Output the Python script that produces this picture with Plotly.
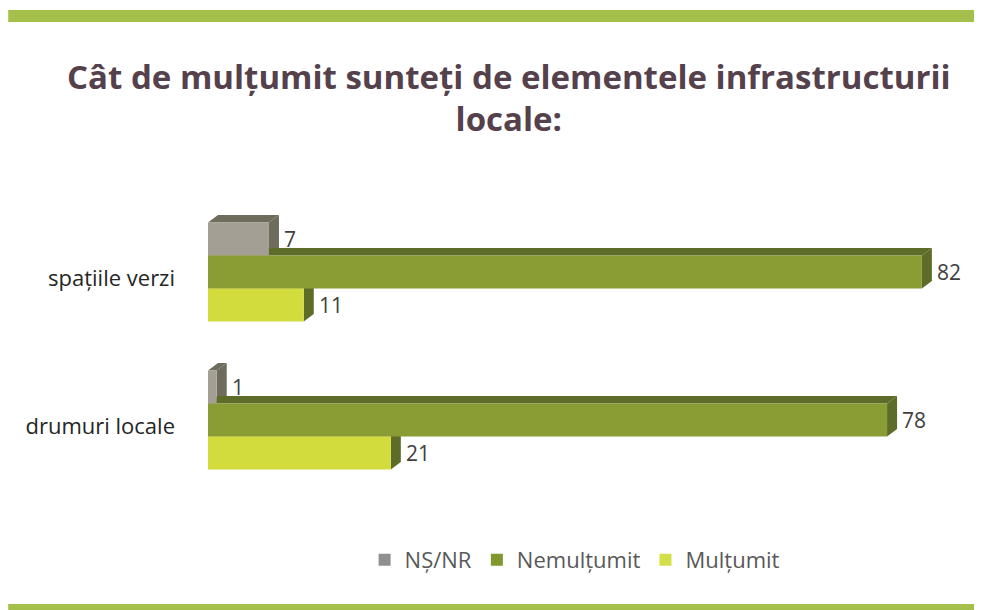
import plotly.graph_objects as go

categories = ["spațiile verzi", "drumuri locale"]
series_names = ["NȘ/NR", "Nemulțumit", "Mulțumit"]
ns_nr = [7, 1]
nemultumit = [82, 78]
multumit = [11, 21]
values = [ns_nr, nemultumit, multumit]

front_colors = ["#a39f94", "#8a9c34", "#d2dc3d"]
side_colors = ["#6e6d5c", "#5e6c2a", "#5e6c2a"]
legend_colors = ["#8f8f8f", "#7f992e", "#d4df48"]

FONT = "Open Sans, Lato, sans-serif"

bar_h = 0.223
offsets = [-bar_h, 0.0, bar_h]
dx = 1.15     # depth in x units
dy = 0.05     # depth in y units (upwards)
label_drop = 0.045  # category labels sit slightly below group centre

fig = go.Figure()
shapes = []
annotations = []

for i, name in enumerate(series_names):
    ys = [j + offsets[i] for j in range(len(categories))]
    fig.add_trace(go.Bar(
        x=values[i], y=ys, orientation="h", width=bar_h, name=name,
        marker=dict(color=front_colors[i], line=dict(width=0)),
        showlegend=False, hoverinfo="x+name",
    ))
    # legend proxy
    fig.add_trace(go.Bar(
        x=[None], y=[None], orientation="h", name=name,
        marker=dict(color=legend_colors[i], line=dict(width=0)),
        showlegend=True,
    ))
    for j, v in enumerate(values[i]):
        top = ys[j] - bar_h / 2
        bot = ys[j] + bar_h / 2
        # top face
        shapes.append(dict(
            type="path", xref="x", yref="y", layer="below",
            path=f"M 0,{top} L {v},{top} L {v+dx},{top-dy} L {dx},{top-dy} Z",
            fillcolor=side_colors[i], line=dict(width=0),
        ))
        # side face
        shapes.append(dict(
            type="path", xref="x", yref="y", layer="below",
            path=f"M {v},{top} L {v+dx},{top-dy} L {v+dx},{bot-dy} L {v},{bot} Z",
            fillcolor=side_colors[i], line=dict(width=0),
        ))
        annotations.append(dict(
            x=v + dx, y=ys[j], xref="x", yref="y", text=str(v),
            showarrow=False, xanchor="left", yanchor="middle", xshift=3,
            font=dict(family=FONT, size=21, color="#404040"),
        ))

# decorative green bands
shapes.append(dict(type="rect", xref="paper", yref="paper", x0=-0.27, x1=1.06,
                   y0=1.595, y1=1.635, fillcolor="#a4c04a", line=dict(width=0), layer="above"))
shapes.append(dict(type="rect", xref="paper", yref="paper", x0=-0.27, x1=1.06,
                   y0=-0.40, y1=-0.372, fillcolor="#a4c04a", line=dict(width=0), layer="above"))

fig.update_layout(
    width=982, height=610,
    margin=dict(l=200, r=42, t=190, b=124),
    paper_bgcolor="#ffffff", plot_bgcolor="rgba(0,0,0,0)",
    barmode="overlay",
    title=dict(
        text="<b>Cât de mulțumit sunteți de elementele infrastructurii<br>locale:</b>",
        x=0.51, xanchor="center", xref="container",
        y=0.868, yanchor="middle", yref="container",
        font=dict(family=FONT, size=33, color="#55414c"),
    ),
    xaxis=dict(range=[0, 85], visible=False, showgrid=False, zeroline=False),
    yaxis=dict(
        range=[1.5, -0.5],
        tickvals=[j + label_drop for j in range(len(categories))], ticktext=categories,
        showgrid=False, zeroline=False, showline=False, ticks="",
        ticklabelstandoff=32,
        tickfont=dict(family=FONT, size=22, color="#262626"),
    ),
    legend=dict(
        orientation="h", xref="container", yref="container",
        x=0.577, xanchor="center", y=0.095, yanchor="middle",
        font=dict(family=FONT, size=22, color="#595959"),
        itemwidth=30, bgcolor="rgba(0,0,0,0)",
    ),
    shapes=shapes,
    annotations=annotations,
)

fig.write_html("out.html")
